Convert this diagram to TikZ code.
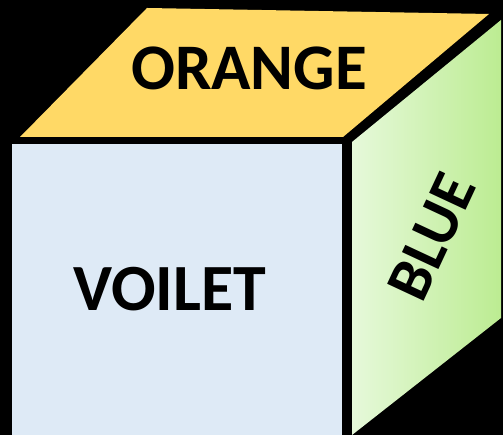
\documentclass[tikz,border=0pt]{standalone}
\usepackage{fontspec}
\setmainfont{Carlito}
\definecolor{topface}{RGB}{255,217,102}
\definecolor{frontface}{RGB}{222,234,246}
\definecolor{greenL}{RGB}{230,249,218}
\definecolor{greenR}{RGB}{188,236,146}
\begin{document}
\begin{tikzpicture}[x=1pt,y=1pt,
  facelabel/.style={inner sep=0pt, text=black, font=\bfseries}]
\useasboundingbox (0,0) rectangle (503,435);
\fill[black] (0,0) rectangle (503,435);
% top face
\fill[topface] (20,298) -- (343,298) -- (489,421) -- (147,427) -- cycle;
% front face
\fill[frontface] (12,0) rectangle (342,291);
% right face
\shade[left color=greenL, right color=greenR] (352,0) -- (352,293) -- (501,415) -- (501,117) -- cycle;
% labels
\node[facelabel, font=\fontsize{65}{70}\selectfont\bfseries] (orange) at (249,367) {ORANGE};
\node[facelabel, font=\fontsize{66}{70}\selectfont\bfseries] (voilet) at (170,146) {VOILET};
\node[facelabel, font=\fontsize{62}{66}\selectfont\bfseries, rotate=65] (blue) at (432,198) {BLUE};
\end{tikzpicture}
\end{document}
